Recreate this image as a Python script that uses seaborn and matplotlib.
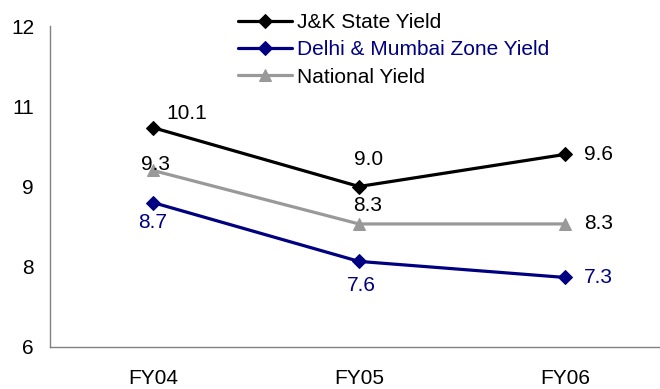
import matplotlib
matplotlib.use("Agg")
import matplotlib.pyplot as plt
import seaborn as sns
import pandas as pd

years = ["FY04", "FY05", "FY06"]
jk_yield = [10.1, 9.0, 9.6]
delhi_mumbai_yield = [8.7, 7.6, 7.3]
national_yield = [9.3, 8.3, 8.3]

y_ticks = [6, 7.5, 9, 10.5, 12]
y_tick_labels = ["6", "8", "9", "11", "12"]

sns.set_style("white")
plt.rcParams["font.family"] = ["Liberation Sans", "DejaVu Sans"]
plt.rcParams["text.color"] = "black"
plt.rcParams["xtick.color"] = "black"
plt.rcParams["ytick.color"] = "black"

FS = 15
W, H = 660, 389

fig = plt.figure(figsize=(W / 100, H / 100), dpi=100)
# axes box in pixel terms: left 50, right 668, top 26, bottom 347
ax = fig.add_axes([50 / W, 1 - 347 / H, (668 - 50) / W, (347 - 26) / H])

x = list(range(len(years)))
series = [
    ("J&K State Yield", jk_yield, "#000000", "D", 7, "black"),
    ("Delhi & Mumbai Zone Yield", delhi_mumbai_yield, "#000080", "D", 7, "#000080"),
    ("National Yield", national_yield, "#999999", "^", 9, "black"),
]

for name, vals, color, marker, ms, _ in series:
    df = pd.DataFrame({"x": x, "y": vals})
    sns.lineplot(data=df, x="x", y="y", ax=ax, color=color, linewidth=2.3,
                 marker=marker, markersize=ms, markeredgecolor=color,
                 label=name, clip_on=False)

# value label offsets (points) for each series / year
offsets = {
    0: [(24.5, 10), (7, 19.5), (24, 0)],
    1: [(0, -14.5), (2, -17.5), (24, 0)],
    2: [(2, 4.5), (6, 13.5), (24, 0)],
}
for i, (name, vals, color, marker, ms, tcolor) in enumerate(series):
    for j, v in enumerate(vals):
        dx, dy = offsets[i][j]
        ax.annotate(f"{v:.1f}", (x[j], v), xytext=(dx, dy),
                    textcoords="offset points", ha="center", va="center",
                    fontsize=FS, color=tcolor)

ax.set_xlim(-0.5, 2.5)
ax.set_ylim(6, 12)
ax.set_xticks(x)
ax.set_xticklabels(years, fontsize=FS)
ax.set_yticks(y_ticks)
ax.set_yticklabels(y_tick_labels, fontsize=FS)
ax.tick_params(axis="both", length=0)
ax.tick_params(axis="x", pad=16)
ax.tick_params(axis="y", pad=11.5)
ax.set_xlabel("")
ax.set_ylabel("")

for side in ["top", "right"]:
    ax.spines[side].set_visible(False)
for side in ["left", "bottom"]:
    ax.spines[side].set_color("#808080")
    ax.spines[side].set_linewidth(1.0)

leg = ax.legend(loc="upper left", bbox_to_anchor=((238 - 50) / (668 - 50), 1 + 13 / 321),
                frameon=False, fontsize=FS, handlelength=2.6, handletextpad=0.25,
                labelspacing=0.4, borderaxespad=0, borderpad=0)
for t in leg.get_texts():
    t.set_color("black")
leg.get_texts()[1].set_color("#000080")

fig.savefig("out.png", dpi=100)
